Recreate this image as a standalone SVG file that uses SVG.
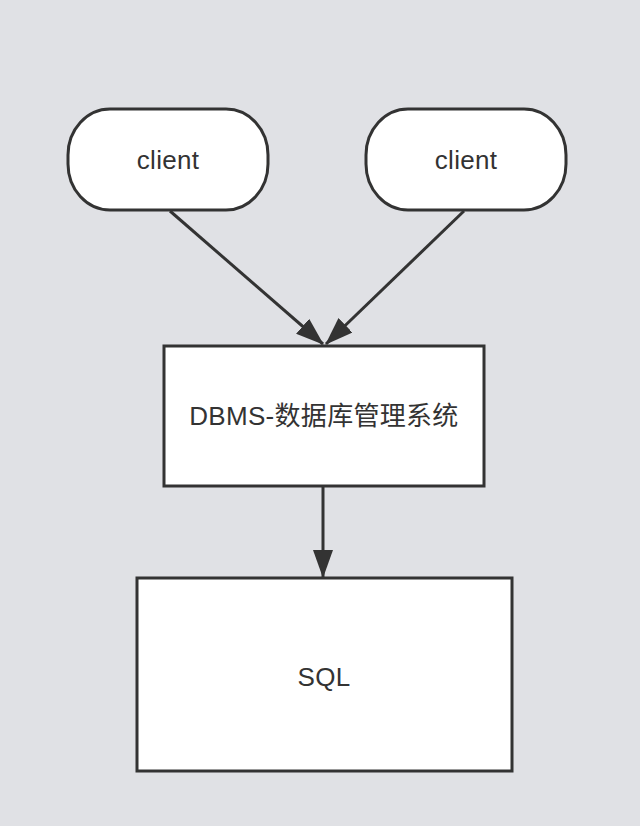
<svg xmlns="http://www.w3.org/2000/svg" width="640" height="826" viewBox="0 0 640 826">
<style>
.node{fill:#ffffff;stroke:#333333;stroke-width:3}
.edge{stroke:#333333;stroke-width:3;fill:none}
.lbl{font-family:"Helvetica Neue","Liberation Sans","Noto Sans CJK SC",sans-serif;font-size:26px;fill:#333333;text-anchor:middle;dominant-baseline:central;letter-spacing:0.3px}
</style>
<defs>
<marker id="ah" viewBox="0 0 28 20" refX="27" refY="10" markerWidth="28" markerHeight="20" markerUnits="userSpaceOnUse" orient="auto">
<path d="M0,0 L28,10 L0,20 Z" fill="#333333"/>
</marker>
</defs>
<rect width="640" height="826" fill="#e0e1e5"/>
<g id="connectors">
<line class="edge" x1="170" y1="211" x2="323" y2="344" marker-end="url(#ah)"/>
<line class="edge" x1="464" y1="211" x2="326" y2="344" marker-end="url(#ah)"/>
<line class="edge" x1="323" y1="487" x2="323" y2="577" marker-end="url(#ah)"/>
</g>
<g id="client1">
<rect class="node" x="68" y="109" width="200" height="101" rx="42" ry="46"/>
<text class="lbl" x="168" y="160">client</text>
</g>
<g id="client2">
<rect class="node" x="366" y="109" width="200" height="101" rx="42" ry="46"/>
<text class="lbl" x="466" y="160">client</text>
</g>
<g id="dbms">
<rect class="node" x="164" y="346" width="320" height="140"/>
<text class="lbl" x="324" y="416">DBMS-数据库管理系统</text>
</g>
<g id="sql">
<rect class="node" x="137" y="578" width="375" height="193"/>
<text class="lbl" x="324" y="677">SQL</text>
</g>
</svg>
